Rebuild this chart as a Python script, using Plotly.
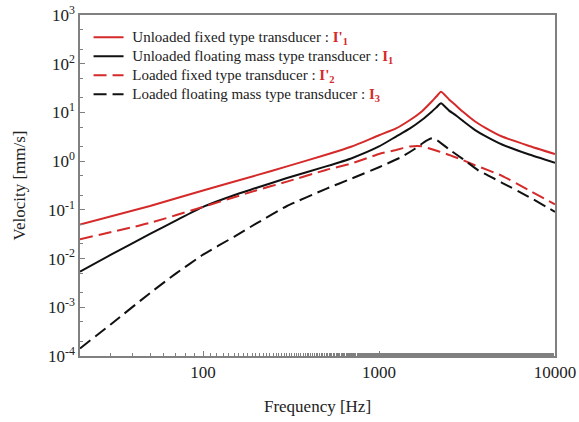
import plotly.graph_objects as go

# Frequencies [Hz] and velocities [mm/s]
freq_unloaded_fixed = [20, 50, 100, 200, 300, 500, 700, 1000, 1250, 1500, 1750, 2000, 2125, 2250, 2500, 2700, 3000, 3500, 4000, 5000, 7000, 10000]
vel_unloaded_fixed = [0.05, 0.12, 0.25, 0.51, 0.78, 1.35, 2.0, 3.4, 4.7, 7.0, 10.5, 17.0, 21.5, 26.5, 18.5, 14.5, 10.3, 6.6, 4.9, 3.2, 2.1, 1.4]

freq_unloaded_float = [20, 30, 50, 70, 100, 150, 200, 300, 500, 700, 1000, 1250, 1500, 1750, 2000, 2125, 2250, 2500, 2700, 3000, 3500, 4000, 5000, 7000, 10000]
vel_unloaded_float = [0.0054, 0.012, 0.032, 0.06, 0.115, 0.2, 0.28, 0.45, 0.78, 1.15, 2.0, 3.2, 4.7, 7.0, 10.5, 12.8, 15.4, 10.9, 9.0, 6.7, 4.4, 3.3, 2.2, 1.4, 0.93]

freq_loaded_fixed = [20, 50, 100, 200, 300, 500, 700, 1000, 1250, 1500, 1750, 2000, 2400, 3000, 3500, 5000, 7000, 10000]
vel_loaded_fixed = [0.025, 0.054, 0.115, 0.25, 0.38, 0.66, 0.9, 1.4, 1.7, 2.0, 2.02, 1.75, 1.42, 1.05, 0.83, 0.5, 0.26, 0.13]

freq_loaded_float = [20, 30, 50, 70, 100, 150, 200, 300, 500, 700, 1000, 1350, 1600, 1850, 2000, 2150, 2500, 3000, 3750, 4000, 5000, 7000, 10000]
vel_loaded_float = [0.000143, 0.00045, 0.00196, 0.0049, 0.012, 0.028, 0.052, 0.12, 0.27, 0.44, 0.75, 1.23, 1.8, 2.6, 2.95, 2.65, 1.75, 1.1, 0.61, 0.55, 0.36, 0.19, 0.091]

RED = "#d42a2a"
BLACK = "#111111"
DASH = "13px,6px"


def legend_label(desc, sym):
    return ("<span style='font-size:15px'>\u00a0" + desc + " : "
            "<b><span style='color:" + RED + "'>" + sym + "</span></b></span>")


legend_names = [
    legend_label("Unloaded fixed type transducer", "I'<sub>1</sub>"),
    legend_label("Unloaded floating mass type transducer", "I<sub>1</sub>"),
    legend_label("Loaded fixed type transducer", "I'<sub>2</sub>"),
    legend_label("Loaded floating mass type transducer", "I<sub>3</sub>"),
]

y_tick_vals = [1e-4, 1e-3, 1e-2, 1e-1, 1, 10, 100, 1000]
y_tick_text = ["10<sup>-4</sup>", "10<sup>-3</sup>", "10<sup>-2</sup>", "10<sup>-1</sup>",
               "10<sup>0</sup>", "10<sup>1</sup>", "10<sup>2</sup>", "10<sup>3</sup>"]
x_tick_vals = [100, 1000, 10000]
x_tick_text = ["100", "1000", "10000"]

LINE = dict(width=2, shape="spline", smoothing=0.5)

fig = go.Figure()
fig.add_trace(go.Scatter(x=freq_unloaded_fixed, y=vel_unloaded_fixed, mode="lines",
                         name=legend_names[0], line=dict(color=RED, **LINE)))
fig.add_trace(go.Scatter(x=freq_unloaded_float, y=vel_unloaded_float, mode="lines",
                         name=legend_names[1], line=dict(color=BLACK, **LINE)))
fig.add_trace(go.Scatter(x=freq_loaded_fixed, y=vel_loaded_fixed, mode="lines",
                         name=legend_names[2], line=dict(color=RED, dash=DASH, **LINE)))
fig.add_trace(go.Scatter(x=freq_loaded_float, y=vel_loaded_float, mode="lines",
                         name=legend_names[3], line=dict(color=BLACK, dash=DASH, **LINE)))

FONT = "Liberation Serif, Times New Roman, serif"
AXCOL = "#808080"

fig.update_layout(
    width=579, height=422,
    margin=dict(l=80, r=24, t=15, b=66),
    paper_bgcolor="white", plot_bgcolor="white",
    font=dict(family=FONT, size=16, color="#222"),
    showlegend=True,
    legend=dict(x=0.018, y=0.977, xanchor="left", yanchor="top",
                bgcolor="rgba(0,0,0,0)", font=dict(family=FONT, size=11.5, color="#222"),
                tracegroupgap=0, itemwidth=30),
    xaxis=dict(type="log", range=[1.30103, 4], tickvals=x_tick_vals, ticktext=x_tick_text,
               ticks="inside", ticklen=5, tickcolor=AXCOL, tickwidth=1, automargin=False,
               showline=True, linecolor=AXCOL, linewidth=1.5, mirror=True,
               showgrid=False, zeroline=False,
               minor=dict(ticks="inside", ticklen=3, tickcolor=AXCOL, showgrid=False),
               tickfont=dict(family=FONT, size=17, color="#222"),
               title=dict(text="Frequency [Hz]", font=dict(family=FONT, size=17, color="#222"), standoff=19)),
    yaxis=dict(type="log", range=[-4, 3], tickvals=y_tick_vals, ticktext=y_tick_text,
               ticks="inside", ticklen=5, tickcolor=AXCOL, tickwidth=1, automargin=False,
               showline=True, linecolor=AXCOL, linewidth=1.5, mirror=True,
               showgrid=False, zeroline=False,
               minor=dict(ticks="inside", ticklen=3, tickcolor=AXCOL, showgrid=False),
               tickfont=dict(family=FONT, size=17, color="#222"),
               title=dict(text="Velocity [mm/s]", font=dict(family=FONT, size=17, color="#222"), standoff=18)),
)

fig.write_html("out.html", config={"displayModeBar": False},
               post_script="document.body.style.margin='0';")
